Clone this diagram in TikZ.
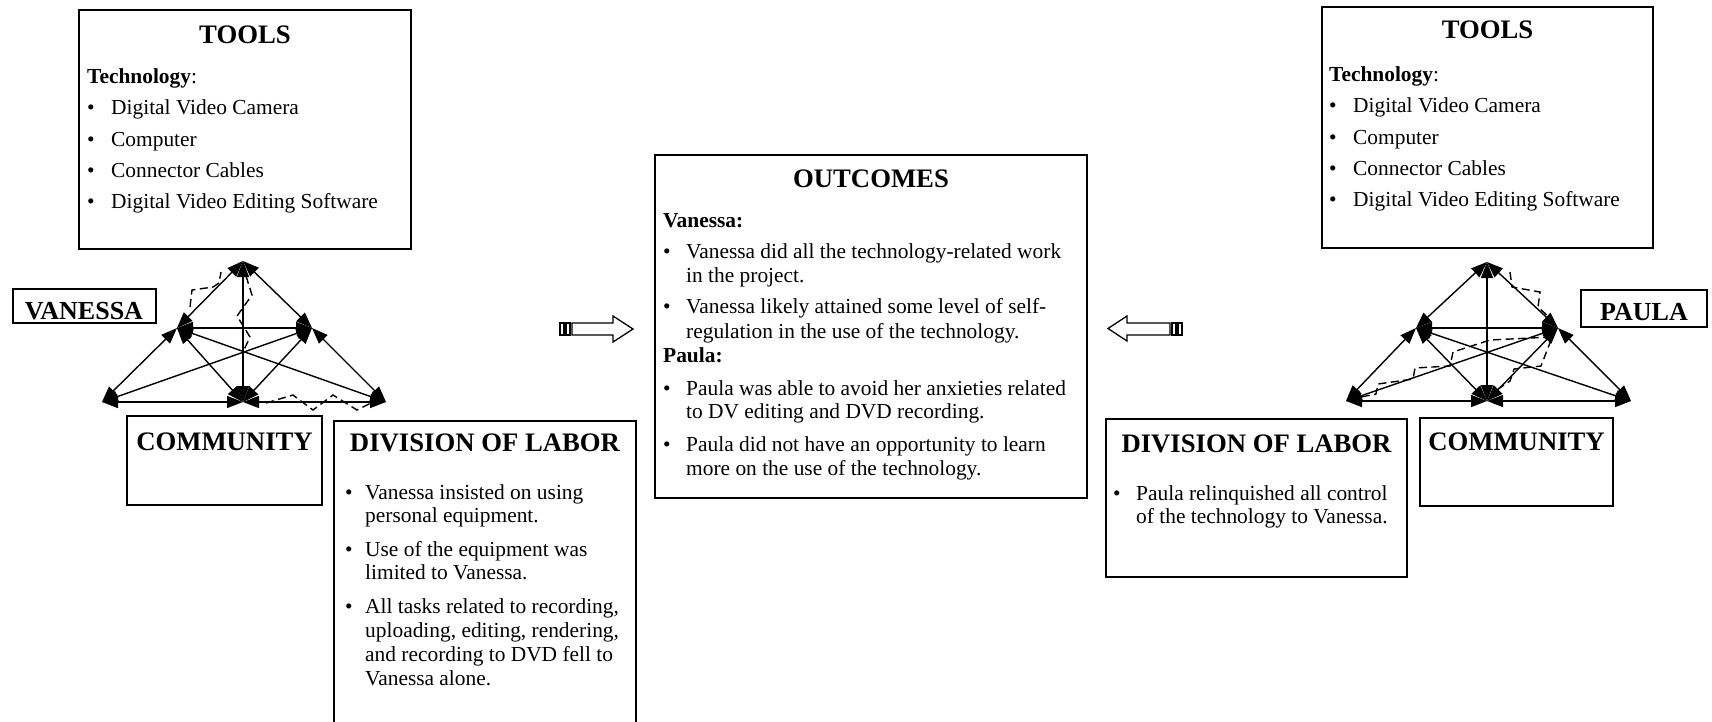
\documentclass[tikz,border=0pt]{standalone}
\usepackage{fontspec}
\setmainfont{Liberation Serif}
\usetikzlibrary{arrows.meta}
% one line of body text, placed by its baseline
\newcommand{\tline}[4]{\node[txt] (#1) at (#2,#3) {#4};}
% a bullet glyph, placed by its baseline
\newcommand{\bul}[3]{\node[txt] (#1) at (#2,#3) {\textbullet};}
\begin{document}
\begin{tikzpicture}[x=1pt,y=-1pt,
  box/.style={draw,line width=1.6pt,inner sep=0pt,outer sep=0pt},
  head/.style={font=\fontsize{26.7}{30}\selectfont\bfseries,inner sep=0pt,anchor=base},
  who/.style={font=\fontsize{26}{30}\selectfont\bfseries,inner sep=0pt,anchor=base},
  txt/.style={font=\fontsize{21.4}{24}\selectfont,inner sep=0pt,anchor=base west},
  link/.style={line width=1.4pt,{Triangle[length=16pt,width=12pt]}-{Triangle[length=16pt,width=12pt]}},
  zig/.style={line width=1.4pt,dash pattern=on 8pt off 4.5pt},
  blockarrow/.style={line width=1.3pt,fill=white,line join=miter}
  ]
\useasboundingbox (0,0) rectangle (1712,721);

% ---------------- left activity system (Vanessa) ----------------
\node[box,minimum width=332pt,minimum height=239pt] (ltools) at (245,129.5) {};
\node[head] (ltoolsh) at (245,43) {TOOLS};
\tline{ltech}{87}{83}{\textbf{Technology}:}
\bul{lb1}{87}{114}\tline{lt1}{111}{114}{Digital Video Camera}
\bul{lb2}{87}{146}\tline{lt2}{111}{146}{Computer}
\bul{lb3}{87}{177}\tline{lt3}{111}{177}{Connector Cables}
\bul{lb4}{87}{208}\tline{lt4}{111}{208}{Digital Video Editing Software}

\node[box,minimum width=143pt,minimum height=34pt] (vbox) at (84.5,306) {};
\node[who] (vname) at (84,319) {VANESSA};

\node[box,minimum width=195pt,minimum height=89pt] (lcomm) at (224.5,460.5) {};
\node[head] (lcommh) at (224.5,450) {COMMUNITY};

\node[box,minimum width=302pt,minimum height=305pt] (ldol) at (485,573.5) {};
\node[head] (ldolh) at (485,451) {DIVISION OF LABOR};
\bul{ldb1}{345}{499}\tline{ld1}{365}{499}{Vanessa insisted on using}
\tline{ld2}{365}{522}{personal equipment.}
\bul{ldb2}{345}{556}\tline{ld3}{365}{556}{Use of the equipment was}
\tline{ld4}{365}{579}{limited to Vanessa.}
\bul{ldb3}{345}{613}\tline{ld5}{365}{613}{All tasks related to recording,}
\tline{ld6}{365}{637}{uploading, editing, rendering,}
\tline{ld7}{365}{661}{and recording to DVD fell to}
\tline{ld8}{365}{685}{Vanessa alone.}

% triangle corners
\coordinate (vT)  at (243,261);
\coordinate (vL)  at (177,328);
\coordinate (vR)  at (312,328);
\coordinate (vBL) at (102,402);
\coordinate (vBM) at (243,402);
\coordinate (vBR) at (386,402);

\draw[link] (vT) -- (vL);
\draw[link] (vT) -- (vR);
\draw[link] (vT) -- (vBM);
\draw[link] (vL) -- (vR);
\draw[link] (vL) -- (vBL);
\draw[link] (vL) -- (vBM);
\draw[link] (vL) -- (vBR);
\draw[link] (vR) -- (vBL);
\draw[link] (vR) -- (vBM);
\draw[link] (vR) -- (vBR);
\draw[link] (vBL) -- (vBM);
\draw[link] (vBM) -- (vBR);

% contradictions (dashed zigzags)
\draw[zig] (190,307) -- (192,290) -- (213,287) -- (219,283) -- (221,272);
\draw[zig] (246,276) -- (252,295) -- (237,316) -- (250,337) -- (243,352) -- (243,374);
\draw[zig] (266,403) -- (293,395) -- (313,410) -- (333,395) -- (357,410) -- (371,403);

% ---------------- block arrows ----------------
\draw[blockarrow] (572,323) -- (613,323) -- (613,316) -- (633,329) -- (613,342) -- (613,335) -- (572,335) -- cycle;
\draw[line width=1.2pt] (560,323) rectangle (564,335);
\draw[line width=1.2pt] (566,323) rectangle (570,335);

\draw[blockarrow] (1170,323) -- (1127,323) -- (1127,316) -- (1108,328.5) -- (1127,341) -- (1127,335) -- (1170,335) -- cycle;
\draw[line width=1.2pt] (1172,323) rectangle (1176,335);
\draw[line width=1.2pt] (1178,323) rectangle (1182,335);

% ---------------- outcomes ----------------
\node[box,minimum width=432pt,minimum height=343pt] (outc) at (871,326.5) {};
\node[head] (outch) at (871,187) {OUTCOMES};
\tline{ov}{663}{227}{\textbf{Vanessa:}}
\bul{ob1}{663}{258}\tline{o1}{686}{258}{Vanessa did all the technology-related work}
\tline{o2}{686}{282}{in the project.}
\bul{ob2}{663}{313}\tline{o3}{686}{313}{Vanessa likely attained some level of self-}
\tline{o4}{686}{338}{regulation in the use of the technology.}
\tline{op}{663}{362}{\textbf{Paula:}}
\bul{ob3}{663}{395}\tline{o5}{686}{395}{Paula was able to avoid her anxieties related}
\tline{o6}{686}{418}{to DV editing and DVD recording.}
\bul{ob4}{663}{451}\tline{o7}{686}{451}{Paula did not have an opportunity to learn}
\tline{o8}{686}{475}{more on the use of the technology.}

% ---------------- right activity system (Paula) ----------------
\node[box,minimum width=331pt,minimum height=241pt] (rtools) at (1487.5,127.5) {};
\node[head] (rtoolsh) at (1487.5,38) {TOOLS};
\tline{rtech}{1329}{81}{\textbf{Technology}:}
\bul{rb1}{1329}{112}\tline{rt1}{1353}{112}{Digital Video Camera}
\bul{rb2}{1329}{144}\tline{rt2}{1353}{144}{Computer}
\bul{rb3}{1329}{175}\tline{rt3}{1353}{175}{Connector Cables}
\bul{rb4}{1329}{206}\tline{rt4}{1353}{206}{Digital Video Editing Software}

\node[box,minimum width=126pt,minimum height=37pt] (pbox) at (1644,308.5) {};
\node[who] (pname) at (1644,320) {PAULA};

\node[box,minimum width=301pt,minimum height=158pt] (rdol) at (1256.5,498) {};
\node[head] (rdolh) at (1256.5,452) {DIVISION OF LABOR};
\bul{rdb1}{1113}{500}\tline{rd1}{1136}{500}{Paula relinquished all control}
\tline{rd2}{1136}{523}{of the technology to Vanessa.}

\node[box,minimum width=193pt,minimum height=88pt] (rcomm) at (1516.5,462) {};
\node[head] (rcommh) at (1516.5,450) {COMMUNITY};

\coordinate (pT)  at (1487,262);
\coordinate (pL)  at (1416,328);
\coordinate (pR)  at (1558,328);
\coordinate (pBL) at (1346,401);
\coordinate (pBM) at (1487,401);
\coordinate (pBR) at (1631,401);

\draw[link] (pT) -- (pL);
\draw[link] (pT) -- (pR);
\draw[link] (pT) -- (pBM);
\draw[link] (pL) -- (pR);
\draw[link] (pL) -- (pBL);
\draw[link] (pL) -- (pBM);
\draw[link] (pL) -- (pBR);
\draw[link] (pR) -- (pBL);
\draw[link] (pR) -- (pBM);
\draw[link] (pR) -- (pBR);
\draw[link] (pBL) -- (pBM);
\draw[link] (pBM) -- (pBR);

\draw[zig] (1510,272) -- (1512,287) -- (1540,292) -- (1538,307) -- (1550,318);
\draw[zig] (1551,337) -- (1490,340) -- (1453,352) -- (1450,366) -- (1415,368) -- (1413,379) -- (1378,384) -- (1376,394) -- (1356,398);
\draw[zig] (1551,340) -- (1541,366) -- (1514,369) -- (1510,381) -- (1498,389);
\end{tikzpicture}
\end{document}
